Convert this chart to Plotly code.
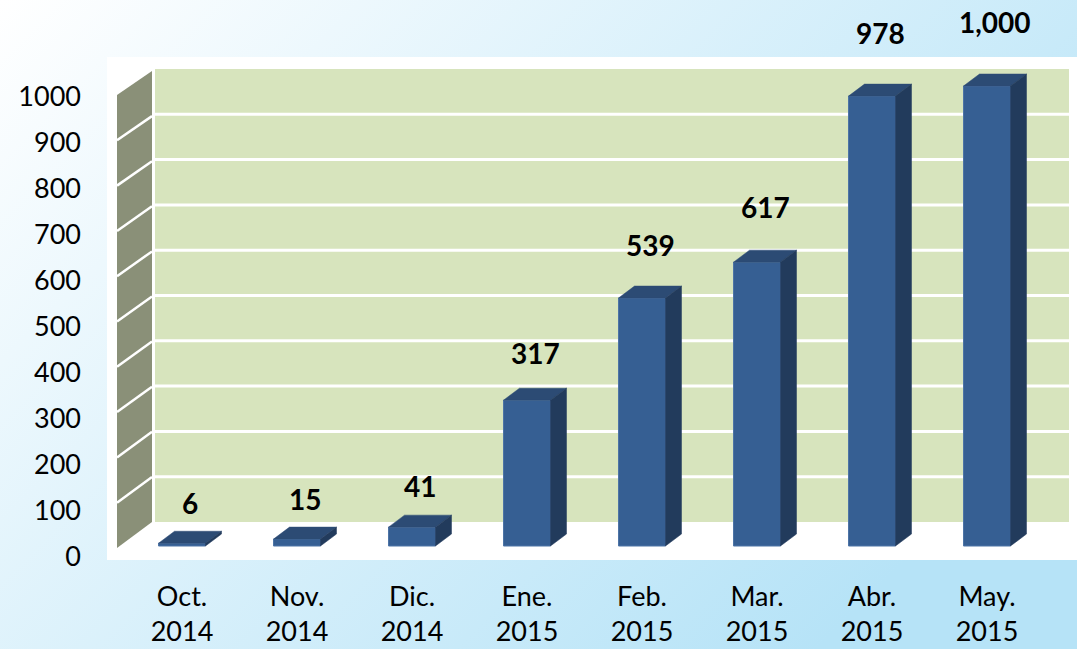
import base64
import plotly.graph_objects as go

# ---------------- data ----------------
categories = ["Oct.<br>2014", "Nov.<br>2014", "Dic.<br>2014", "Ene.<br>2015",
              "Feb.<br>2015", "Mar.<br>2015", "Abr.<br>2015", "May.<br>2015"]
values = [6, 15, 41, 317, 539, 617, 978, 1000]
y_ticks = [0, 100, 200, 300, 400, 500, 600, 700, 800, 900, 1000]
wall_grid = [100, 200, 300, 400, 500, 600, 700, 800, 900]

# ---------------- geometry / style ----------------
W, H = 1077, 649
X0_PX, X_STEP = 182, 115          # first category centre, spacing (px)
Y0_PX, Y_SCALE = 546, 0.46        # bar base (px), px per unit
LBL0_PX = 557                     # pixel of tick label "0"

def px2x(px):
    return (px - X0_PX) / X_STEP

def px2y(py):
    return (Y0_PX - py) / Y_SCALE

x_range = [px2x(0), px2x(W)]
y_range = [px2y(H), px2y(0)]
lbl_range = [(LBL0_PX - H) / Y_SCALE, LBL0_PX / Y_SCALE]

BAR_W = 47 / X_STEP
DX = 16 / X_STEP
DY = 12 / Y_SCALE

FRONT = "#365f93"
TOP = "#2c4b74"
SIDE = "#223b5c"
WALL = "#d7e4bd"
SIDEWALL = "#8a9078"
FONT = "Lato, 'Open Sans', sans-serif"

def back_y(g):      # value on back wall -> front-axis units
    return px2y(522 - 0.453 * g)

def side_left(g):
    return px2y(548 - 0.453 * g)

def side_right(g):
    return px2y(522 - 0.451 * g)

# gradient background as svg
svg = f'''<svg xmlns="http://www.w3.org/2000/svg" width="{W}" height="{H}" viewBox="0 0 {W} {H}" preserveAspectRatio="none">
<defs><linearGradient id="g" x1="0" y1="0" x2="1" y2="0.6">
<stop offset="0" stop-color="#ffffff"/><stop offset="1" stop-color="#b6e3f7"/>
</linearGradient></defs><rect width="{W}" height="{H}" fill="url(#g)"/></svg>'''
bg_uri = "data:image/svg+xml;base64," + base64.b64encode(svg.encode()).decode()

fig = go.Figure()

# front faces
xs = list(range(len(values)))
fig.add_trace(go.Bar(x=xs, y=values, width=BAR_W, marker=dict(color=FRONT, line=dict(width=1, color="#4d74a6")),
                     hoverinfo="skip", showlegend=False))

# top & side faces
tx, ty, sx, sy = [], [], [], []
for i, v in zip(xs, values):
    l, r = i - BAR_W / 2, i + BAR_W / 2
    tx += [l, l + DX, r + DX, r, l, None]
    ty += [v, v + DY, v + DY, v, v, None]
    sx += [r, r, r + DX, r + DX, r, None]
    sy += [0, v, v + DY, DY, 0, None]
fig.add_trace(go.Scatter(x=tx, y=ty, fill="toself", fillcolor=TOP, mode="lines",
                         line=dict(width=0.5, color=TOP), hoverinfo="skip", showlegend=False))
fig.add_trace(go.Scatter(x=sx, y=sy, fill="toself", fillcolor=SIDE, mode="lines",
                         line=dict(width=0.5, color=SIDE), hoverinfo="skip", showlegend=False))

# dummy trace for label axes
fig.add_trace(go.Scatter(x=[0], y=[0], xaxis="x2", yaxis="y2", mode="markers",
                         marker=dict(opacity=0), hoverinfo="skip", showlegend=False))

shapes = []
# white plot area
shapes.append(dict(type="rect", xref="paper", yref="paper", x0=107 / W, x1=1, y0=1 - 560 / H, y1=1 - 57 / H,
                   fillcolor="white", line=dict(width=0), layer="below"))
# back wall
shapes.append(dict(type="rect", xref="x", yref="y", x0=px2x(155), x1=px2x(1069), y0=back_y(0), y1=back_y(1000),
                   fillcolor=WALL, line=dict(width=0), layer="below"))
for g in wall_grid:
    shapes.append(dict(type="line", xref="x", yref="y", x0=px2x(155), x1=px2x(1069), y0=back_y(g), y1=back_y(g),
                       line=dict(color="white", width=3), layer="below"))
# side wall
xl, xr = px2x(117), px2x(152)
shapes.append(dict(type="path", xref="x", yref="y",
                   path=f"M{xl},{side_left(0)} L{xl},{side_left(1000)} L{xr},{side_right(1000)} L{xr},{side_right(0)} Z",
                   fillcolor=SIDEWALL, line=dict(width=0), layer="below"))
for g in wall_grid:
    shapes.append(dict(type="line", xref="x", yref="y", x0=xl, x1=xr, y0=side_left(g), y1=side_right(g),
                       line=dict(color="white", width=2.5), layer="below"))

annotations = []
for i, v in zip(xs, values):
    annotations.append(dict(x=i + DX / 2, y=v, xref="x", yref="y", text=f"<b>{v:,}</b>", showarrow=False,
                            yshift=40 + 0.024 * v, font=dict(size=28, color="black", family=FONT)))

fig.update_layout(
    width=W, height=H, margin=dict(l=0, r=0, t=0, b=0),
    paper_bgcolor="white", plot_bgcolor="rgba(0,0,0,0)",
    images=[dict(source=bg_uri, xref="paper", yref="paper", x=0, y=1, sizex=1, sizey=1,
                 sizing="stretch", layer="below", xanchor="left", yanchor="top")],
    shapes=shapes, annotations=annotations,
    font=dict(family=FONT, color="black"),
    xaxis=dict(range=x_range, domain=[0, 1], visible=False, fixedrange=True),
    yaxis=dict(range=y_range, domain=[0, 1], visible=False, fixedrange=True),
    xaxis2=dict(overlaying="x", anchor="free", position=1 - 578 / H, side="bottom", range=x_range,
                tickmode="array", tickvals=xs, ticktext=categories, showgrid=False, zeroline=False,
                showline=False, ticks="", tickfont=dict(size=27, family=FONT, color="black"), fixedrange=True),
    yaxis2=dict(overlaying="y", anchor="free", position=81 / W, side="left", range=lbl_range,
                tickmode="array", tickvals=y_ticks, showgrid=False, zeroline=False,
                showline=False, ticks="", tickfont=dict(size=27, family=FONT, color="black"), fixedrange=True),
    bargap=0,
)

fig.write_html("out.html", config={"displayModeBar": False, "staticPlot": True},
               post_script="document.body.style.margin='0';document.body.style.overflow='hidden';")
